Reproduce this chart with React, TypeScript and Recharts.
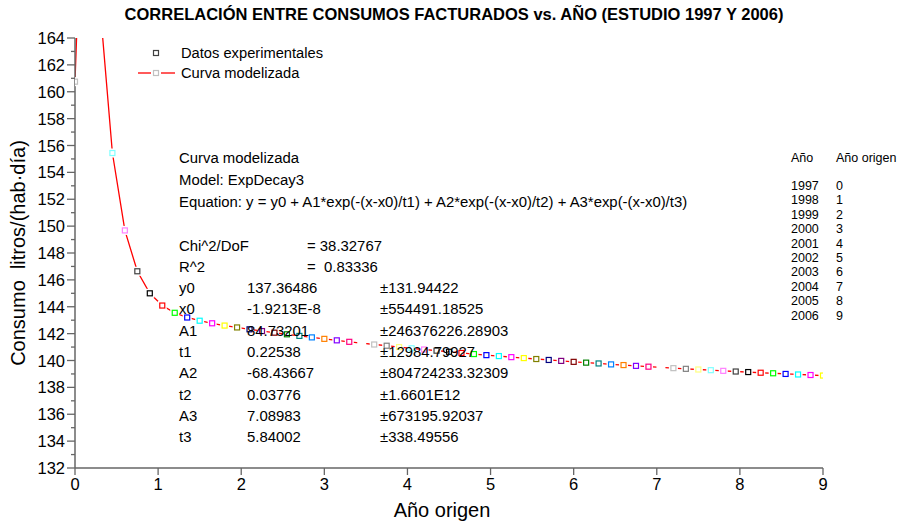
import { ComposedChart, Line, XAxis, YAxis } from 'recharts';

// Año origen (0 = 1997) at which the modelled curve is sampled
const anioOrigen = [
  0, 0.15, 0.3, 0.45, 0.6, 0.75, 0.9, 1.05, 1.2, 1.35, 1.5, 1.65, 1.8, 1.95, 2.1, 2.25,
  2.4, 2.55, 2.7, 2.85, 3, 3.15, 3.3, 3.45, 3.6, 3.75, 3.9, 4.05, 4.2, 4.35, 4.5, 4.65,
  4.8, 4.95, 5.1, 5.25, 5.4, 5.55, 5.7, 5.85, 6, 6.15, 6.3, 6.45, 6.6, 6.75, 6.9, 7.05,
  7.2, 7.35, 7.5, 7.65, 7.8, 7.95, 8.1, 8.25, 8.4, 8.55, 8.7, 8.85, 9,
];

// consumo, litros/(hab·día)
const consumo = [
  160.75, 186.54, 166.46, 155.44, 149.68, 146.64, 145.0, 144.09, 143.55, 143.2, 142.96,
  142.77, 142.6, 142.46, 142.32, 142.19, 142.07, 141.95, 141.83, 141.72, 141.61, 141.5,
  141.39, 141.29, 141.19, 141.1, 141.0, 140.91, 140.82, 140.73, 140.65, 140.56, 140.48,
  140.4, 140.33, 140.25, 140.18, 140.11, 140.04, 139.97, 139.9, 139.84, 139.78, 139.71,
  139.66, 139.6, 139.54, 139.49, 139.43, 139.38, 139.33, 139.28, 139.23, 139.18, 139.14,
  139.09, 139.05, 139.0, 138.96, 138.92, 138.88,
];

const xTicks = [0, 1, 2, 3, 4, 5, 6, 7, 8, 9];
const yTicks = [
  132, 133, 134, 135, 136, 137, 138, 139, 140, 141, 142, 143, 144, 145, 146, 147, 148,
  149, 150, 151, 152, 153, 154, 155, 156, 157, 158, 159, 160, 161, 162, 163, 164,
];

const anios = ['1997', '1998', '1999', '2000', '2001', '2002', '2003', '2004', '2005', '2006'];
const origenes = ['0', '1', '2', '3', '4', '5', '6', '7', '8', '9'];

const parametros = [
  ['y0', '137.36486', '±131.94422'],
  ['x0', '-1.9213E-8', '±554491.18525'],
  ['A1', '84.73201', '±246376226.28903'],
  ['t1', '0.22538', '±12984.79927'],
  ['A2', '-68.43667', '±804724233.32309'],
  ['t2', '0.03776', '±1.6601E12'],
  ['A3', '7.08983', '±673195.92037'],
  ['t3', '5.84002', '±338.49556'],
];

// Origin's colour list, cycled over the markers
const markerColors = [
  '#C0C0C0', '#808080', '#FFFF80', '#80FFFF', '#FF80FF', '#404040', '#000000', '#FF0000',
  '#00FF00', '#0000FF', '#00FFFF', '#FF00FF', '#FFFF00', '#808000', '#000080', '#800080',
  '#800000', '#008000', '#008080', '#0080FF', '#FF8000', '#8000FF', '#FF0080', '#FFFFFF',
];

const data = anioOrigen.map((x, i) => ({ x, y: consumo[i] }));

const FONT = '"Liberation Sans", Arial, sans-serif';
const AXIS = '#666';

function SquareDot(props: any) {
  const { cx, cy, index } = props;
  if (cx == null || cy == null) return null;
  const c = markerColors[index % markerColors.length];
  return (
    <g key={`d${index}`}>
      <rect x={cx - 4.5} y={cy - 4.5} width={9} height={9} fill="#fff" />
      <rect x={cx - 2.5} y={cy - 2.5} width={5} height={5} fill="#fff" stroke={c} strokeWidth={1.2} />
    </g>
  );
}

function YTick(props: any) {
  const { x, y, payload } = props;
  const major = payload.value % 2 === 0;
  return (
    <g>
      <line x1={x} x2={x - (major ? 8 : 4)} y1={y} y2={y} stroke={AXIS} strokeWidth={1.3} />
      {major && (
        <text x={x - 10} y={y} dy={6} textAnchor="end" fontSize={16.5} fill="#000" fontFamily={FONT}>
          {payload.value}
        </text>
      )}
    </g>
  );
}

export default function App() {
  return (
    <div style={{ position: 'absolute', left: 0, top: 0, width: 902, height: 521, background: '#fff' }}>
      <ComposedChart
        width={902}
        height={521}
        data={data}
        margin={{ top: 38, right: 79, bottom: 23, left: 15 }}
        style={{ fontFamily: FONT }}
      >
        <XAxis
          dataKey="x"
          type="number"
          domain={[0, 9]}
          ticks={xTicks}
          height={30}
          tickSize={7}
          tickMargin={3}
          axisLine={{ stroke: AXIS, strokeWidth: 1.5 }}
          tickLine={{ stroke: AXIS, strokeWidth: 1.3 }}
          tick={{ fill: '#000', fontSize: 16.5 }}
          allowDataOverflow
        />
        <YAxis
          type="number"
          domain={[132, 164]}
          ticks={yTicks}
          interval={0}
          width={60}
          tickSize={0}
          tickMargin={0}
          tickLine={false}
          axisLine={{ stroke: AXIS, strokeWidth: 1.5 }}
          tick={<YTick />}
          allowDataOverflow
        />
        <Line
          dataKey="y"
          type="linear"
          stroke="#FF0000"
          strokeWidth={1.3}
          dot={<SquareDot />}
          activeDot={false}
          isAnimationActive={false}
        />
      </ComposedChart>

      <svg
        width={902}
        height={521}
        style={{ position: 'absolute', left: 0, top: 0, pointerEvents: 'none' }}
        fontFamily={FONT}
      >
        <text x={454} y={20} textAnchor="middle" fontSize={16.5} fontWeight="bold">
          CORRELACIÓN ENTRE CONSUMOS FACTURADOS vs. AÑO (ESTUDIO 1997 Y 2006)
        </text>

        <text x={442} y={517} textAnchor="middle" fontSize={20}>
          Año origen
        </text>
        <text transform="translate(25,253) rotate(-90)" textAnchor="middle" fontSize={20} xmlSpace="preserve">
          Consumo  litros/(hab·día)
        </text>

        {/* legend */}
        <rect x={153.5} y={50.5} width={5} height={5} fill="#fff" stroke="#404040" strokeWidth={1.2} />
        <text x={181} y={58} fontSize={14.7}>Datos experimentales</text>
        <line x1={138} x2={151} y1={73} y2={73} stroke="#FF0000" strokeWidth={1.3} />
        <line x1={161} x2={175} y1={73} y2={73} stroke="#FF0000" strokeWidth={1.3} />
        <rect x={153.5} y={70.5} width={5} height={5} fill="#fff" stroke="#C0C0C0" strokeWidth={1.2} />
        <text x={181} y={78} fontSize={14.7}>Curva modelizada</text>

        {/* fit report */}
        <g fontSize={14.9}>
          <text x={179} y={163}>Curva modelizada</text>
          <text x={179} y={185}>Model: ExpDecay3</text>
          <text x={179} y={207}>
            Equation: y = y0 + A1*exp(-(x-x0)/t1) + A2*exp(-(x-x0)/t2) + A3*exp(-(x-x0)/t3)
          </text>
          <text x={179} y={251}>Chi^2/DoF</text>
          <text x={307} y={251}>= 38.32767</text>
          <text x={179} y={272}>R^2</text>
          <text x={307} y={272} xmlSpace="preserve">=  0.83336</text>
          {parametros.map((p, i) => (
            <g key={p[0]}>
              <text x={179} y={293 + i * 21.3}>{p[0]}</text>
              <text x={247} y={293 + i * 21.3}>{p[1]}</text>
              <text x={380} y={293 + i * 21.3}>{p[2]}</text>
            </g>
          ))}
        </g>

        {/* year table */}
        <g fontSize={12.5}>
          <text x={791} y={162}>Año</text>
          <text x={836} y={162}>Año origen</text>
          {anios.map((a, i) => (
            <g key={a}>
              <text x={791} y={190 + i * 14.4}>{a}</text>
              <text x={836} y={190 + i * 14.4}>{origenes[i]}</text>
            </g>
          ))}
        </g>
      </svg>
    </div>
  );
}
